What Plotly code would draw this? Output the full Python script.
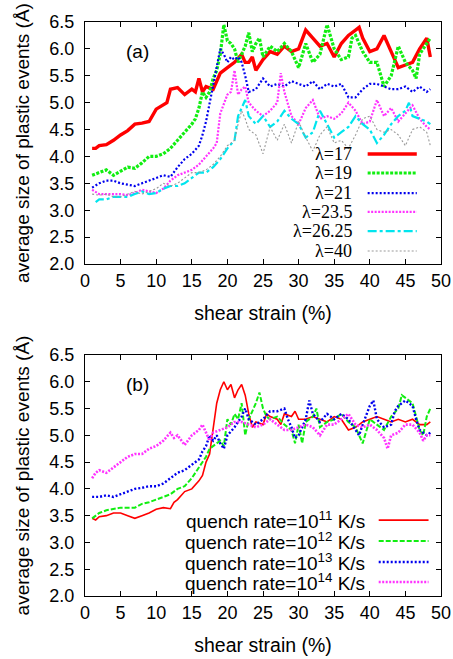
import plotly.graph_objects as go

# ---------------- Panel (a) data ----------------
a17_x = [1, 1.5, 2, 3, 4, 5, 6, 7, 8, 9, 10, 11, 11.5, 12, 13, 14, 15, 15.5, 16, 16.5, 17, 18, 19, 20, 21, 22, 22.5, 23, 23.5, 24, 25, 26, 27, 28, 29, 30, 31, 32, 33, 34, 35, 36, 37, 38, 38.5, 39, 40, 41, 42, 43, 44, 45, 46, 47, 48, 48.5]
a17_y = [4.15, 4.15, 4.2, 4.22, 4.3, 4.4, 4.48, 4.6, 4.62, 4.65, 4.88, 4.95, 5.0, 5.25, 5.28, 5.15, 5.25, 5.2, 5.45, 5.2, 5.3, 5.25, 5.55, 5.65, 5.75, 5.9, 5.75, 5.75, 5.85, 5.6, 5.8, 5.95, 5.9, 6.05, 5.95, 6.0, 6.35, 6.2, 6.05, 6.1, 5.85, 6.1, 6.25, 6.35, 6.4, 6.2, 5.95, 6.0, 6.25, 5.95, 5.65, 5.7, 5.75, 6.0, 6.2, 5.85]

a19_x = [1, 2, 3, 4, 5, 6, 7, 8, 9, 10, 11, 12, 13, 14, 15, 15.5, 16, 16.5, 17, 17.5, 18, 18.5, 19, 19.5, 20, 20.5, 21, 21.5, 22, 22.5, 23, 23.5, 24, 24.5, 25, 26, 27, 28, 29, 30, 31, 32, 33, 34, 35, 36, 37, 37.5, 38, 39, 40, 41, 42, 43, 44, 45, 46, 46.5, 47, 48, 48.5]
a19_y = [3.65, 3.7, 3.75, 3.65, 3.72, 3.8, 3.78, 3.88, 4.0, 4.0, 4.05, 4.15, 4.3, 4.45, 4.6, 4.7, 4.9, 5.2, 5.1, 5.2, 5.45, 5.6, 5.9, 6.45, 6.15, 6.1, 6.0, 5.75, 5.9, 6.05, 6.3, 5.95, 6.1, 6.2, 5.85, 6.05, 5.95, 6.1, 5.95, 5.65, 6.1, 5.75, 5.9, 6.45, 6.0, 5.8, 5.85, 6.2, 6.25, 5.95, 5.75, 5.75, 5.3, 5.5, 6.05, 5.75, 5.6, 5.45, 5.9, 6.1, 6.2]

a21_x = [1, 2, 3, 4, 5, 6, 7, 8, 9, 10, 11, 12, 13, 14, 15, 16, 16.5, 17, 17.5, 18, 18.5, 19, 19.5, 20, 20.5, 21, 21.5, 22, 22.5, 23, 24, 25, 26, 27, 28, 29, 30, 31, 32, 33, 34, 35, 36, 37, 38, 39, 40, 41, 42, 43, 44, 45, 46, 47, 48, 48.5]
a21_y = [3.42, 3.5, 3.55, 3.55, 3.5, 3.48, 3.45, 3.5, 3.55, 3.6, 3.65, 3.62, 3.8, 3.95, 4.05, 4.2, 4.4, 4.65, 5.0, 5.3, 5.7, 6.0, 5.9, 5.75, 5.85, 5.8, 5.85, 5.75, 5.5, 5.2, 5.25, 5.45, 5.3, 5.35, 5.3, 5.4, 5.35, 5.3, 5.4, 5.25, 5.35, 5.3, 5.35, 5.1, 5.1, 5.25, 5.35, 5.35, 5.3, 5.25, 5.25, 5.3, 5.2, 5.3, 5.2, 5.25]

a235_x = [1, 2, 3, 4, 5, 6, 7, 8, 9, 10, 11, 12, 13, 14, 15, 16, 17, 18, 18.5, 19, 20, 20.5, 21, 21.5, 22, 22.5, 23, 24, 25, 26, 27, 27.5, 28, 29, 30, 31, 32, 33, 34, 35, 36, 37, 38, 39, 40, 41, 42, 43, 44, 45, 46, 47, 48, 48.5]
a235_y = [3.38, 3.3, 3.3, 3.3, 3.3, 3.28, 3.32, 3.38, 3.35, 3.32, 3.4, 3.55, 3.65, 3.7, 3.75, 3.85, 4.0, 4.15, 4.25, 4.8, 5.15, 5.2, 5.6, 5.15, 5.25, 5.3, 5.0, 4.85, 4.75, 4.85, 5.0, 5.55, 5.2, 4.75, 4.6, 4.9, 5.05, 4.7, 4.75, 4.7, 4.8, 5.0, 4.85, 4.6, 4.65, 5.05, 4.75, 4.9, 4.65, 4.8, 4.95, 4.7, 4.55, 4.5]

a2625_x = [1.5, 2, 3, 4, 5, 6, 7, 8, 9, 10, 11, 12, 13, 14, 15, 16, 17, 18, 19, 20, 21, 21.5, 22, 22.5, 23, 24, 25, 26, 27, 28, 29, 30, 31, 32, 33, 34, 35, 36, 37, 38, 39, 40, 41, 42, 43, 44, 45, 45.5, 46, 47, 48, 48.5]
a2625_y = [3.15, 3.2, 3.2, 3.25, 3.25, 3.25, 3.3, 3.35, 3.3, 3.32, 3.4, 3.45, 3.45, 3.5, 3.6, 3.7, 3.7, 3.8, 3.95, 4.15, 4.3, 4.75, 4.9, 5.05, 4.75, 4.6, 4.75, 4.55, 4.65, 4.85, 4.7, 4.6, 4.35, 4.45, 4.85, 4.6, 4.35, 4.45, 4.55, 4.75, 4.6, 4.5, 4.25, 4.4, 4.6, 4.75, 4.85, 5.0, 4.75, 4.7, 4.65, 4.6]

a40_x = [1, 2, 3, 4, 5, 6, 7, 8, 9, 10, 11, 12, 13, 14, 15, 16, 17, 18, 19, 20, 21, 21.5, 22, 22.5, 23, 24, 25, 26, 27, 28, 29, 30, 31, 32, 33, 34, 35, 36, 37, 38, 39, 40, 41, 42, 43, 44, 45, 46, 47, 48, 48.5]
a40_y = [3.3, 3.28, 3.3, 3.25, 3.25, 3.3, 3.35, 3.3, 3.35, 3.4, 3.5, 3.45, 3.5, 3.6, 3.7, 3.7, 3.75, 3.85, 4.0, 4.2, 4.3, 4.6, 4.85, 4.7, 4.5, 4.4, 4.05, 4.55, 4.3, 4.6, 4.25, 4.65, 4.35, 4.1, 4.4, 4.55, 4.25, 4.3, 4.15, 4.4, 4.7, 4.75, 4.5, 4.45, 4.5, 4.4, 4.2, 4.5, 4.55, 4.45, 4.2]

# ---------------- Panel (b) data ----------------
b11_x = [1, 1.5, 2, 3, 4, 5, 6, 7, 8, 9, 10, 11, 12, 12.5, 13, 14, 15, 16, 16.5, 17, 17.5, 18, 18.5, 19, 19.5, 20, 20.5, 21, 21.5, 22, 22.5, 23, 23.5, 24, 25, 25.5, 26, 27, 27.5, 28, 29, 29.5, 30, 31, 32, 33, 34, 35, 36, 37, 38, 39, 40, 41, 42, 43, 44, 45, 46, 47, 48, 48.5]
b11_y = [3.45, 3.42, 3.48, 3.5, 3.55, 3.55, 3.5, 3.45, 3.5, 3.55, 3.62, 3.65, 3.63, 3.75, 3.8, 3.95, 4.0, 4.15, 4.25, 4.5, 4.65, 5.1, 5.6, 5.85, 6.0, 5.85, 5.95, 5.7, 5.85, 5.95, 5.75, 5.4, 5.15, 5.25, 5.2, 5.4, 5.35, 5.3, 5.2, 5.4, 5.35, 5.45, 5.3, 5.3, 5.35, 5.3, 5.25, 5.35, 5.3, 5.1, 5.15, 5.25, 5.3, 5.35, 5.3, 5.25, 5.3, 5.25, 5.3, 5.2, 5.2, 5.25]

b12_x = [1, 2, 3, 4, 5, 6, 7, 8, 9, 10, 11, 12, 13, 14, 15, 16, 17, 17.5, 18, 19, 19.5, 20, 20.5, 21, 21.5, 22, 22.5, 23, 24, 24.5, 25, 25.5, 26, 27, 28, 29, 29.5, 30, 30.5, 31, 32, 32.5, 33, 34, 35, 36, 37, 38, 39, 39.5, 40, 41, 42, 43, 44, 44.5, 45, 46, 47, 47.5, 48, 48.5]
b12_y = [3.45, 3.55, 3.6, 3.62, 3.65, 3.65, 3.65, 3.72, 3.75, 3.8, 3.85, 3.9, 4.0, 4.05, 4.2, 4.4, 4.6, 4.75, 4.8, 4.9, 4.8, 5.3, 5.2, 5.4, 5.3, 5.6, 5.0, 5.3, 5.6, 5.8, 5.5, 5.35, 5.3, 5.35, 5.2, 5.1, 4.85, 5.2, 4.85, 5.25, 5.35, 5.5, 5.15, 5.25, 5.3, 5.4, 5.25, 5.15, 4.85, 5.1, 5.3, 5.2, 5.1, 5.35, 5.5, 5.75, 5.7, 5.6, 5.1, 5.0, 5.35, 5.5]

b13_x = [1, 2, 3, 4, 5, 6, 7, 8, 9, 10, 11, 12, 13, 14, 15, 16, 16.5, 17, 17.5, 18, 18.5, 19, 19.5, 20, 21, 22, 22.5, 23, 24, 25, 26, 27, 28, 28.5, 29, 29.5, 30, 31, 31.5, 32, 33, 34, 35, 36, 37, 38, 38.5, 39, 40, 40.5, 41, 42, 43, 43.5, 44, 45, 46, 46.5, 47, 48, 48.5]
b13_y = [3.85, 3.85, 3.88, 3.85, 3.9, 3.95, 4.0, 4.02, 4.05, 4.05, 4.1, 4.2, 4.3, 4.35, 4.45, 4.55, 4.7, 4.8, 5.0, 4.9, 5.0, 4.85, 4.75, 5.0, 5.15, 5.35, 5.5, 5.3, 5.2, 5.3, 5.45, 5.45, 5.5, 5.3, 5.15, 4.95, 5.0, 5.3, 5.65, 5.4, 5.25, 5.4, 5.3, 5.4, 5.3, 5.1, 5.0, 5.2, 5.55, 5.65, 5.3, 5.15, 5.2, 5.45, 5.55, 5.65, 5.55, 5.3, 5.1, 5.0, 5.05]

b14_x = [1, 1.5, 2, 3, 4, 5, 6, 7, 8, 9, 10, 11, 12, 12.5, 13, 14, 15, 16, 16.5, 17, 17.5, 18, 19, 20, 21, 22, 23, 24, 25, 26, 27, 28, 29, 30, 31, 32, 33, 34, 35, 36, 37, 38, 39, 40, 41, 42, 42.5, 43, 44, 45, 46, 47, 47.5, 48, 48.5]
b14_y = [4.2, 4.3, 4.35, 4.3, 4.4, 4.5, 4.6, 4.65, 4.65, 4.75, 4.8, 4.9, 5.05, 4.95, 5.0, 4.82, 5.0, 5.1, 5.2, 5.05, 4.9, 5.05, 5.1, 5.15, 5.25, 5.25, 5.2, 5.15, 5.2, 5.3, 5.2, 5.1, 5.1, 5.15, 5.2, 5.15, 5.0, 5.2, 5.2, 5.3, 5.4, 5.2, 5.15, 5.2, 5.1, 4.95, 4.75, 5.0, 5.05, 5.2, 5.2, 5.05, 4.9, 5.0, 5.0]

legend_a = ["λ=17", "λ=19", "λ=21", "λ=23.5", "λ=26.25", "λ=40"]
legend_b = ["quench rate=10<sup>11</sup> K/s", "quench rate=10<sup>12</sup> K/s",
            "quench rate=10<sup>13</sup> K/s", "quench rate=10<sup>14</sup> K/s"]

x_ticks = [0, 5, 10, 15, 20, 25, 30, 35, 40, 45, 50]
y_ticks = [2.0, 2.5, 3.0, 3.5, 4.0, 4.5, 5.0, 5.5, 6.0, 6.5]

series_a = [(a17_x, a17_y), (a19_x, a19_y), (a21_x, a21_y), (a235_x, a235_y), (a2625_x, a2625_y), (a40_x, a40_y)]
styles_a = [
    dict(color="#ff0000", width=3.4, dash="solid"),
    dict(color="#11ee11", width=3.2, dash="3px,1.5px"),
    dict(color="#0000ee", width=2.2, dash="2px,2px"),
    dict(color="#ff33ff", width=2.2, dash="2px,1.5px"),
    dict(color="#00e5ee", width=2.2, dash="dashdot"),
    dict(color="#999999", width=1.1, dash="2px,2px"),
]
series_b = [(b11_x, b11_y), (b12_x, b12_y), (b13_x, b13_y), (b14_x, b14_y)]
styles_b = [
    dict(color="#ff0000", width=1.6, dash="solid"),
    dict(color="#11ee11", width=2.0, dash="5px,2px"),
    dict(color="#0000ee", width=2.4, dash="2px,2px"),
    dict(color="#ff33ff", width=2.6, dash="2px,1.5px"),
]

fig = go.Figure()
for (xs, ys), st, name in zip(series_a, styles_a, legend_a):
    fig.add_trace(go.Scatter(x=xs, y=ys, mode="lines", line=st, name=name,
                             showlegend=False, xaxis="x", yaxis="y"))
for (xs, ys), st, name in zip(series_b, styles_b, legend_b):
    fig.add_trace(go.Scatter(x=xs, y=ys, mode="lines", line=st, name=name,
                             showlegend=False, xaxis="x2", yaxis="y2"))

sans = "Liberation Sans, Arial, sans-serif"
serif = "Liberation Serif, Times New Roman, serif"

axis_common = dict(showline=True, linecolor="black", linewidth=1, mirror="allticks",
                   ticks="inside", ticklen=5, tickcolor="black", showgrid=False, zeroline=False,
                   automargin=False,
                   tickfont=dict(family=sans, size=18, color="black"))
xtitle_font = dict(family=sans, size=19.5, color="black")
ytitle_font = dict(family=sans, size=19, color="black")

fig.update_layout(
    width=453, height=659,
    margin=dict(l=85.4, r=11.6, t=22, b=63),
    paper_bgcolor="white", plot_bgcolor="white",
    xaxis=dict(domain=[0, 1], anchor="y", range=[0, 50], tickvals=x_ticks,
               title=dict(text="shear strain (%)", font=xtitle_font, standoff=16),
               **axis_common),
    yaxis=dict(domain=[0.5784, 1], anchor="x", range=[2, 6.5], tickvals=y_ticks, tickformat=".1f",
               ticklabelstandoff=6,
               title=dict(text="average size of plastic events (Å)", font=ytitle_font, standoff=14),
               **axis_common),
    xaxis2=dict(domain=[0, 1], anchor="y2", range=[0, 50], tickvals=x_ticks,
                title=dict(text="shear strain (%)", font=xtitle_font, standoff=16),
                **axis_common),
    yaxis2=dict(domain=[0, 0.4199], anchor="x2", range=[2, 6.5], tickvals=y_ticks, tickformat=".1f",
                ticklabelstandoff=6,
                title=dict(text="average size of plastic events (Å)", font=ytitle_font, standoff=14),
                **axis_common),
)

# panel labels
fig.add_annotation(text="(a)", xref="x domain", yref="y domain", x=0.11, y=0.93,
                   showarrow=False, font=dict(family=sans, size=19, color="black"))
fig.add_annotation(text="(b)", xref="x2 domain", yref="y2 domain", x=0.11, y=0.93,
                   showarrow=False, font=dict(family=sans, size=19, color="black"))

# custom legends (text on the left, line sample on the right, like gnuplot)
rows_a = [0.4545, 0.376, 0.293, 0.215, 0.136, 0.054]
for name, st, yy in zip(legend_a, styles_a, rows_a):
    fig.add_annotation(text=name, xref="x domain", yref="y domain", x=0.757, y=yy,
                       xanchor="right", yanchor="middle", showarrow=False,
                       font=dict(family=serif, size=18, color="black"))
    fig.add_shape(type="line", xref="x domain", yref="y domain", x0=0.794, x1=0.932, y0=yy, y1=yy,
                  line=st)

rows_b = [0.315, 0.228, 0.141, 0.058]
for name, st, yy in zip(legend_b, styles_b, rows_b):
    fig.add_annotation(text=name, xref="x2 domain", yref="y2 domain", x=0.792, y=yy,
                       xanchor="right", yanchor="middle", showarrow=False,
                       font=dict(family=sans, size=19, color="black"))
    fig.add_shape(type="line", xref="x2 domain", yref="y2 domain", x0=0.825, x1=0.965, y0=yy, y1=yy,
                  line=st)

fig.write_html("out.html")
